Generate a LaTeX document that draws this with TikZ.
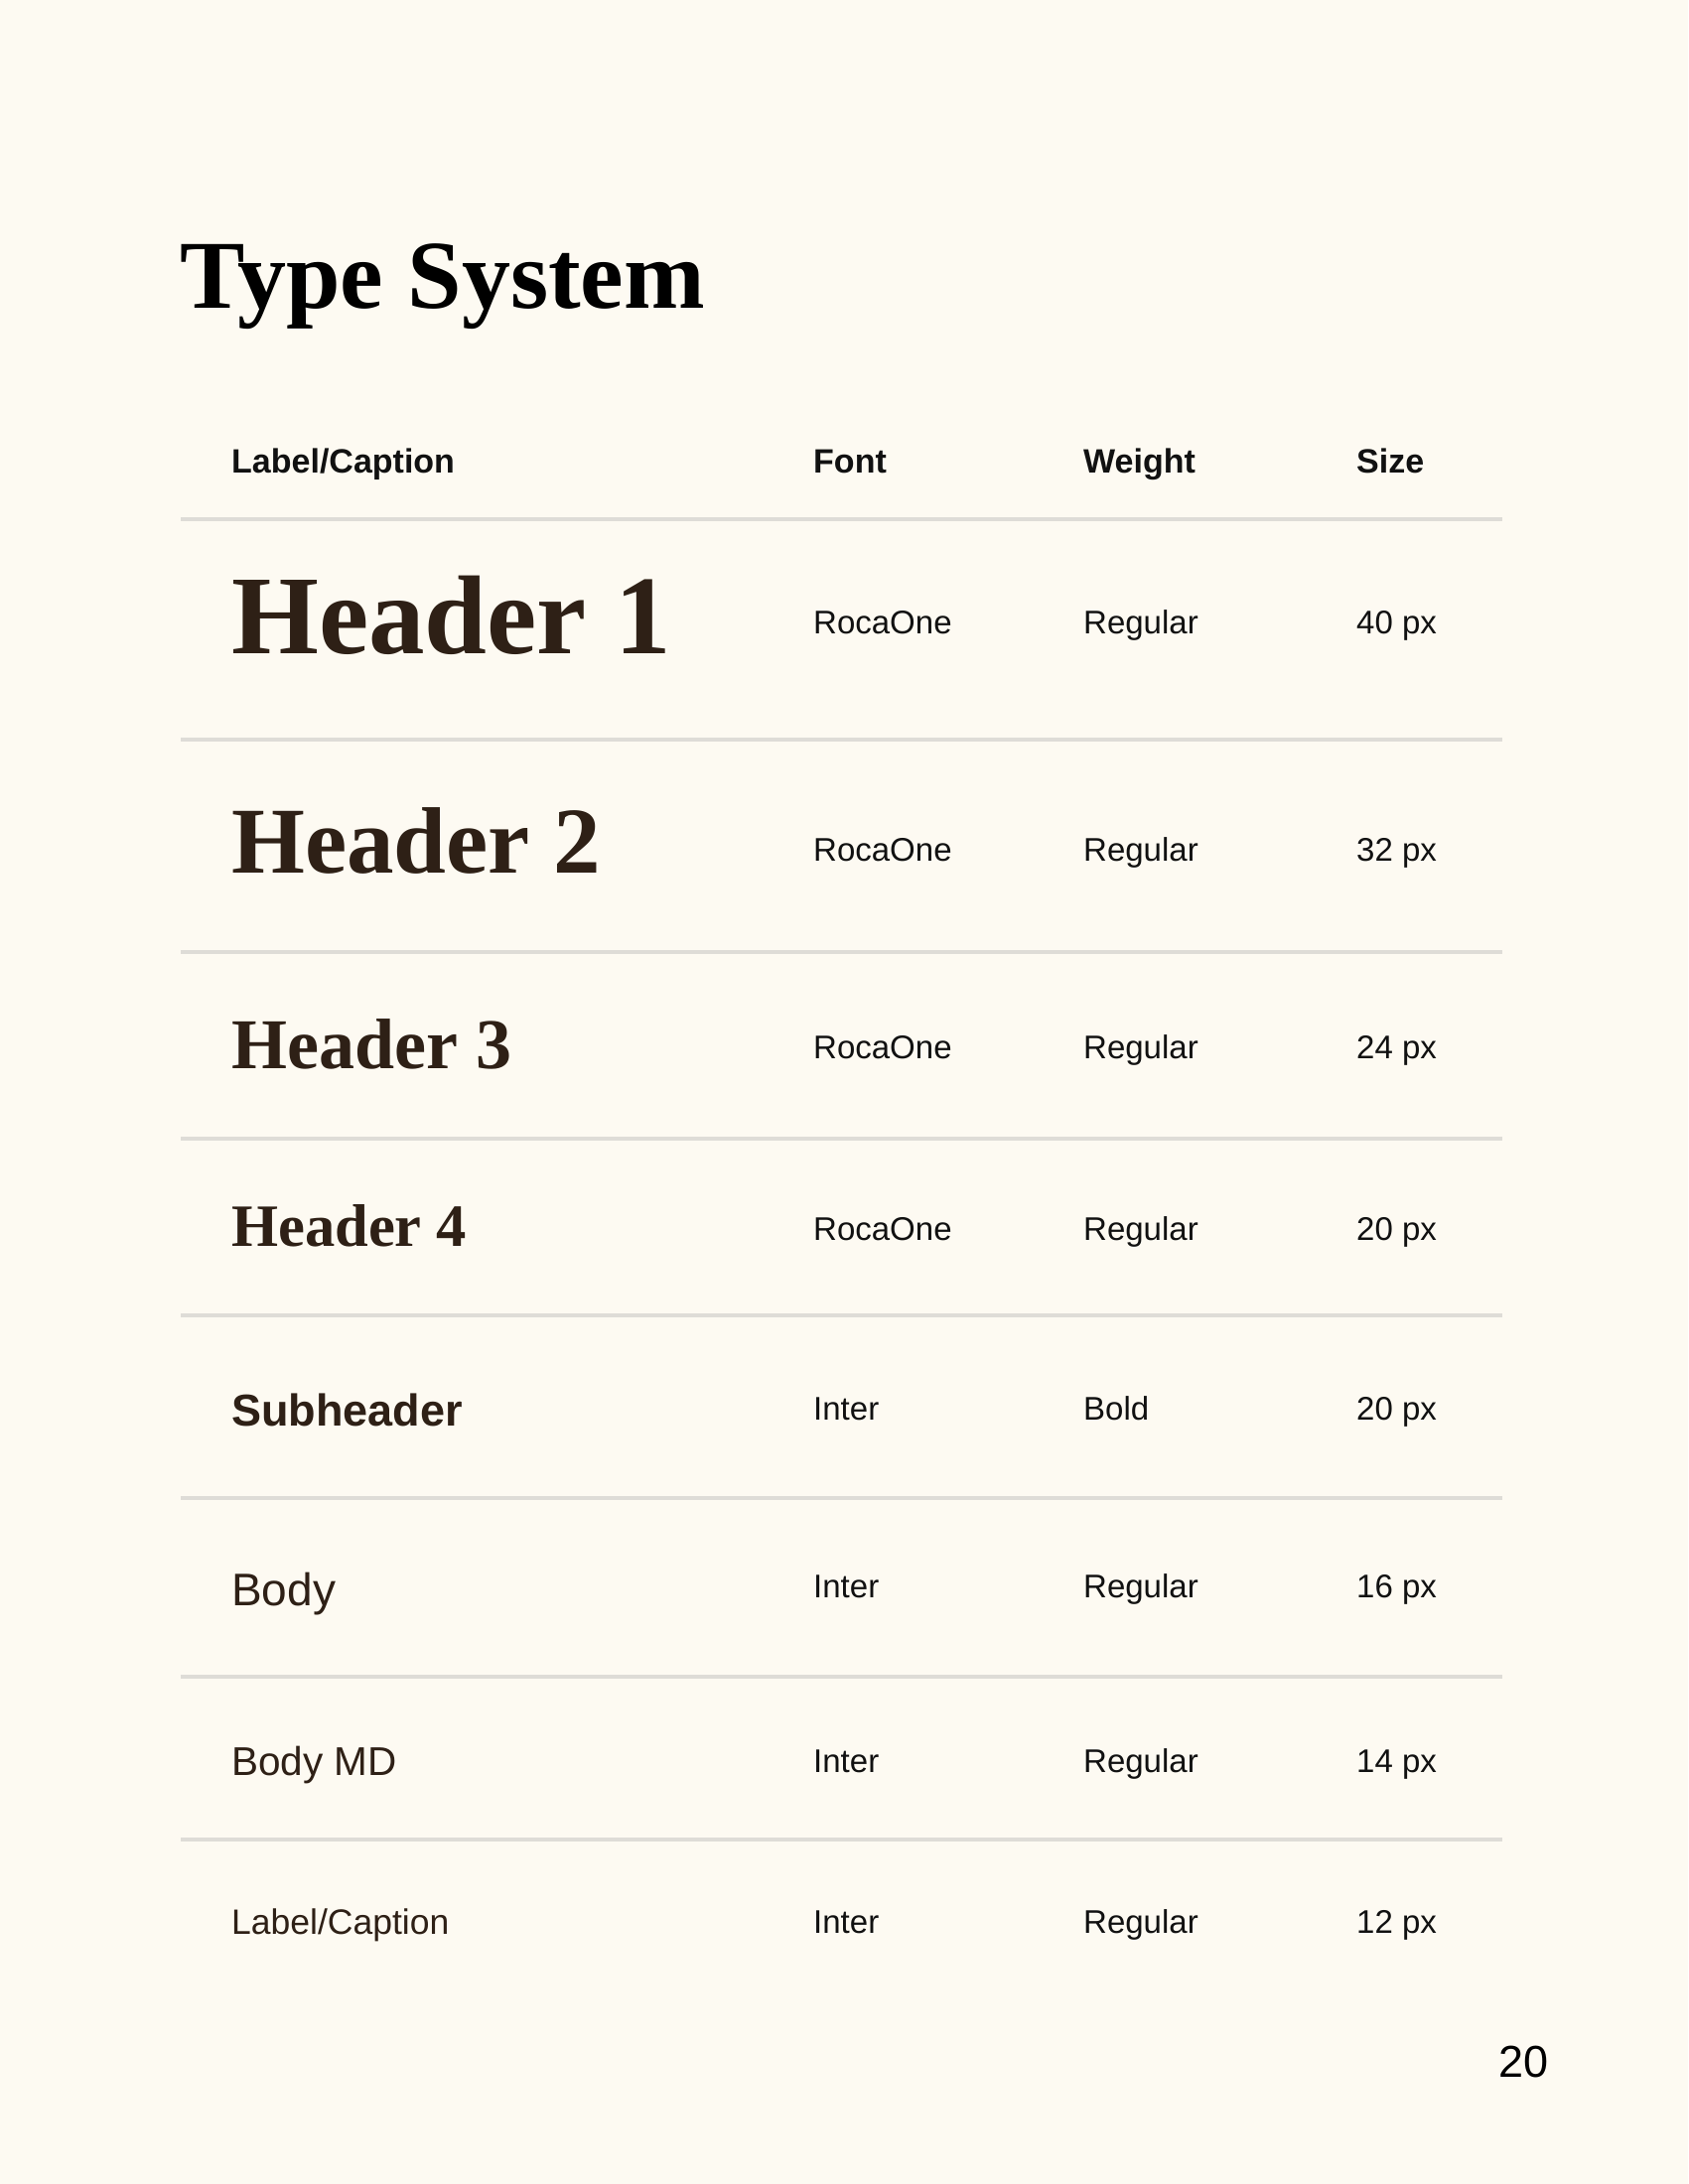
\documentclass[tikz,border=0pt]{standalone}
\usepackage{fontspec}
\setmainfont{Liberation Sans}
\newfontfamily\rocafont{Liberation Serif}
\definecolor{pagebg}{HTML}{FDFAF2}
\definecolor{rulegray}{HTML}{DEDCD7}
\definecolor{headbrown}{HTML}{2E2016}
\definecolor{inkblack}{HTML}{111111}
\tikzset{
  serifhead/.style={anchor=base west, inner sep=0pt, text=headbrown,
    font=\rocafont\bfseries\fontsize{#1pt}{#1pt}\selectfont},
  sanslabel/.style={anchor=base west, inner sep=0pt, text=headbrown,
    font=\fontsize{#1pt}{#1pt}\selectfont},
  sansboldlabel/.style={anchor=base west, inner sep=0pt, text=headbrown,
    font=\bfseries\fontsize{#1pt}{#1pt}\selectfont},
  colhead/.style={anchor=base west, inner sep=0pt, text=inkblack,
    font=\bfseries\fontsize{34pt}{34pt}\selectfont},
  cellval/.style={anchor=base west, inner sep=0pt, text=inkblack,
    font=\fontsize{33pt}{33pt}\selectfont},
  tablerule/.style={draw=rulegray, line width=3.5pt}
}
\begin{document}
\begin{tikzpicture}[x=1pt,y=-1pt]
\useasboundingbox[fill=pagebg] (0,0) rectangle (1700,2200);
% title
\node[anchor=base west, inner sep=0pt, text=black,
  font=\rocafont\bfseries\fontsize{98pt}{98pt}\selectfont] (title) at (181,310) {Type System};
% column heads
\node[colhead] (hLabel) at (233,476) {Label/Caption};
\node[colhead] (hFont) at (819,476) {Font};
\node[colhead] (hWeight) at (1091,476) {Weight};
\node[colhead] (hSize) at (1366,476) {Size};
% rules
\foreach \yy [count=\i] in {523,745,959,1147,1325,1509,1689,1853}
  \draw[tablerule] (182,\yy) -- (1513,\yy);
% rows
\node[serifhead=113] (r1) at (233,658) {Header 1};
\node[cellval] (r1f) at (819,638) {RocaOne};
\node[cellval] (r1w) at (1091,638) {Regular};
\node[cellval] (r1s) at (1366,638) {40 px};

\node[serifhead=95] (r2) at (233,879) {Header 2};
\node[cellval] (r2f) at (819,867) {RocaOne};
\node[cellval] (r2w) at (1091,867) {Regular};
\node[cellval] (r2s) at (1366,867) {32 px};

\node[serifhead=72] (r3) at (233,1076) {Header 3};
\node[cellval] (r3f) at (819,1066) {RocaOne};
\node[cellval] (r3w) at (1091,1066) {Regular};
\node[cellval] (r3s) at (1366,1066) {24 px};

\node[serifhead=60.5] (r4) at (233,1255) {Header 4};
\node[cellval] (r4f) at (819,1249) {RocaOne};
\node[cellval] (r4w) at (1091,1249) {Regular};
\node[cellval] (r4s) at (1366,1249) {20 px};

\node[sansboldlabel=45] (r5) at (233,1436) {Subheader};
\node[cellval] (r5f) at (819,1430) {Inter};
\node[cellval] (r5w) at (1091,1430) {Bold};
\node[cellval] (r5s) at (1366,1430) {20 px};

\node[sanslabel=46] (r6) at (233,1617) {Body};
\node[cellval] (r6f) at (819,1609) {Inter};
\node[cellval] (r6w) at (1091,1609) {Regular};
\node[cellval] (r6s) at (1366,1609) {16 px};

\node[sanslabel=40.5] (r7) at (233,1788) {Body MD};
\node[cellval] (r7f) at (819,1785) {Inter};
\node[cellval] (r7w) at (1091,1785) {Regular};
\node[cellval] (r7s) at (1366,1785) {14 px};

\node[sanslabel=35.5] (r8) at (233,1948) {Label/Caption};
\node[cellval] (r8f) at (819,1947) {Inter};
\node[cellval] (r8w) at (1091,1947) {Regular};
\node[cellval] (r8s) at (1366,1947) {12 px};
% page number
\node[anchor=base east, inner sep=0pt, text=black,
  font=\fontsize{45pt}{45pt}\selectfont] (pageno) at (1560,2092) {20};
\end{tikzpicture}
\end{document}
